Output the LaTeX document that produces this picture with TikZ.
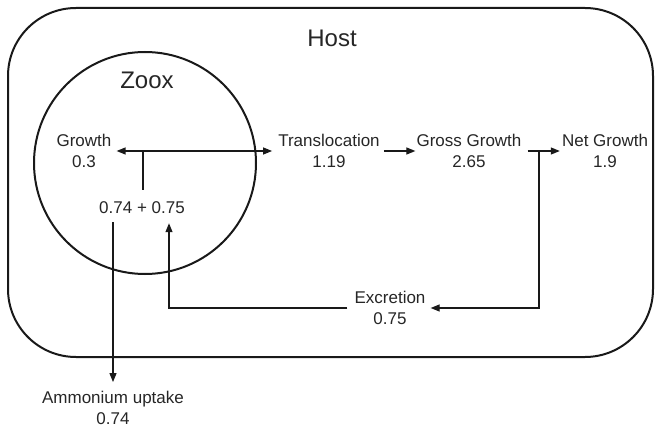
\documentclass[tikz,border=0pt]{standalone}
\usepackage{fontspec}
\setmainfont{Liberation Sans}
\usetikzlibrary{arrows.meta}
\begin{document}
\begin{tikzpicture}[x=1pt,y=-1pt,
  lbl/.style={font=\fontsize{17}{21}\selectfont, align=center, inner sep=0pt, text=black!85},
  big/.style={font=\fontsize{24}{28}\selectfont, inner sep=0pt, text=black!85},
  tip/.style={Triangle[length=9pt,width=7pt]},
  conn/.style={line width=1.2pt, draw=black!90},
  arr/.style={conn, -{Triangle[length=9pt,width=7pt]}},
  frame/.style={line width=2pt, draw=black!90}]
\useasboundingbox (0,0) rectangle (655,427);
\draw[frame, rounded corners=68pt] (8,8) rectangle (653,357);
\draw[frame] (145,163) circle (111pt);
\node[big] (host) at (332,38) {Host};
\node[big] (zoox) at (147,80) {Zoox};
\node[lbl] (growth) at (84,151) {Growth\\0.3};
\node[lbl] (trans) at (329,151) {Translocation\\1.19};
\node[lbl] (gross) at (469,151) {Gross Growth\\2.65};
\node[lbl] (net) at (605,151) {Net Growth\\1.9};
\node[lbl] (sum) at (142,208) {0.74 + 0.75};
\node[lbl] (exc) at (390,308) {Excretion\\0.75};
\node[lbl] (amm) at (113,408) {Ammonium uptake\\0.74};
\coordinate (jg) at (143,151);
\coordinate (jn) at (539,151);
\draw[conn, {Triangle[length=9pt,width=7pt]}-{Triangle[length=9pt,width=7pt]}] ([xshift=5pt]growth.east) -- ([xshift=-6pt]trans.west);
\draw[conn] (jg) -- ([yshift=12pt]sum.north -| jg);
\draw[arr] ([xshift=4pt]trans.east) -- ([xshift=-1pt]gross.west);
\draw[arr] ([xshift=6pt]gross.east) -- ([xshift=-2pt]net.west);
\draw[arr] ([yshift=-8pt]sum.south -| amm.north) -- ([yshift=9pt]amm.north);
\draw[arr] (jn) |- ([xshift=5pt]exc.east);
\draw[arr] ([xshift=-7pt]exc.west) -| ([xshift=27pt,yshift=-9pt]sum.south);
\end{tikzpicture}
\end{document}
